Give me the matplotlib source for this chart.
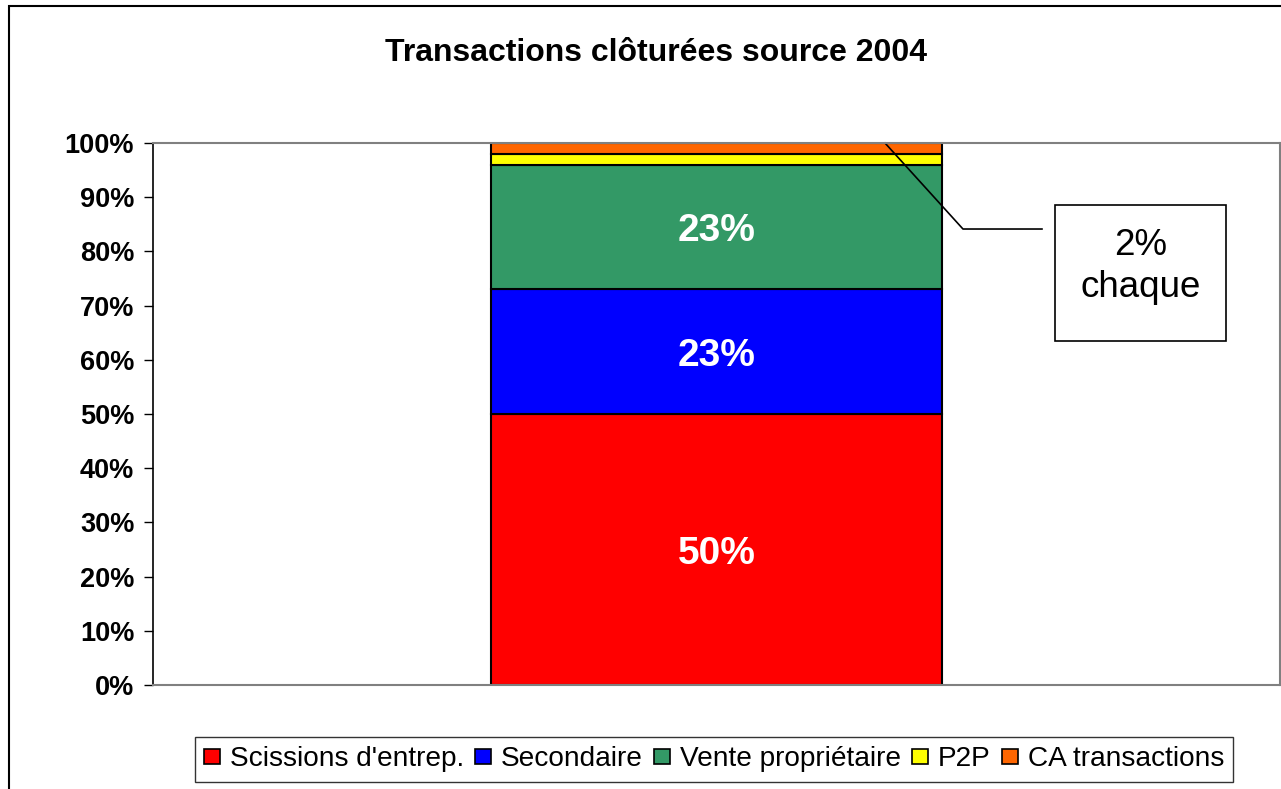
import numpy as np
import matplotlib
matplotlib.use("Agg")
import matplotlib.pyplot as plt
import matplotlib.patches as mpatches
from matplotlib.ticker import FuncFormatter

plt.rcParams['font.family'] = ['Liberation Sans', 'DejaVu Sans']

# data
categories = ["2004"]
series = ["Scissions d'entrep.", "Secondaire", "Vente propriétaire", "P2P", "CA transactions"]
values = [50, 23, 23, 2, 2]
labels = ["50%", "23%", "23%", "", ""]
colours = ["#FF0000", "#0000FF", "#339966", "#FFFF00", "#FF6600"]
y_ticks = np.arange(0, 101, 10)

W, H = 1281, 789
fig = plt.figure(figsize=(W / 100, H / 100), dpi=100)

# outer chart border
fig.patches.append(mpatches.Rectangle((9 / W, -0.05), 1.1, 1 - 6 / H + 0.05,
                                      transform=fig.transFigure, fill=False,
                                      edgecolor='black', linewidth=1.5))

ax = fig.add_axes([153 / W, 104 / H, 1127 / W, 542 / H])

# stacked bar
bottom = 0
for v, c, lab in zip(values, colours, labels):
    ax.bar(0, v, width=0.4, bottom=bottom, color=c, edgecolor='black', linewidth=1.5)
    if lab:
        ax.text(0, bottom + v / 2, lab, ha='center', va='center_baseline', color='white',
                fontsize=28, fontweight='bold')
    bottom += v

ax.set_xlim(-0.5, 0.5)
ax.set_ylim(0, 100)
ax.set_xticks([])
ax.set_yticks(y_ticks)
ax.yaxis.set_major_formatter(FuncFormatter(lambda v, p: f"{v:.0f}%"))
ax.tick_params(axis='y', length=6.5, width=1, pad=7, labelsize=19.5, direction='out')
for t in ax.get_yticklabels():
    t.set_fontweight('bold')

for s in ['top', 'right', 'bottom']:
    ax.spines[s].set_color('#808080')
    ax.spines[s].set_linewidth(1.5)
ax.spines['left'].set_color('black')
ax.spines['left'].set_linewidth(1.2)

# callout for the two small segments
ax.plot([0.6495, 0.7187, 0.7888], [1.0, 0.8413, 0.8413], color='black', linewidth=1.2,
        transform=ax.transAxes, clip_on=False)
ax.add_patch(mpatches.Rectangle((0.8004, 0.6347), 0.1517, 0.2509, transform=ax.transAxes,
                                facecolor='white', edgecolor='black', linewidth=1.2,
                                clip_on=False))
ax.text(0.8762, 0.772, "2%\nchaque", transform=ax.transAxes, ha='center', va='center',
        fontsize=26.5, linespacing=1.28)

fig.text(656 / W, 1 - 53 / H, "Transactions clôturées source 2004", ha='center', va='center',
         fontsize=23, fontweight='bold')

handles = [mpatches.Patch(facecolor=c, edgecolor='black', linewidth=1.2, label=s)
           for s, c in zip(series, colours)]
leg = fig.legend(handles=handles, loc='center', bbox_to_anchor=(714 / W, 1 - 759.5 / H),
                 ncol=5, fontsize=20.2, frameon=True, fancybox=False, handlelength=0.57,
                 handleheight=0.46, handletextpad=0.35, columnspacing=0.4, borderpad=0.33,
                 borderaxespad=0)
leg.get_frame().set_edgecolor('black')
leg.get_frame().set_linewidth(1)

fig.savefig("out.png", dpi=100)
